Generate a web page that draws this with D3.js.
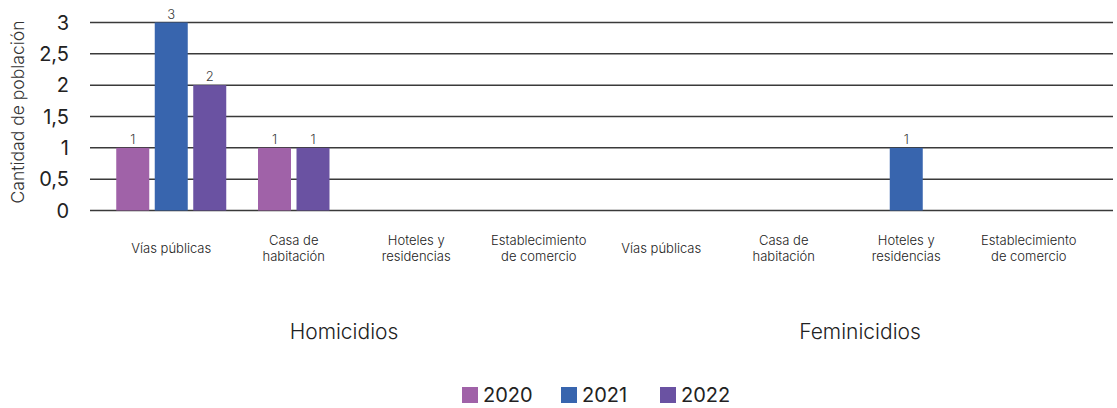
<!DOCTYPE html>
<html>
<head>
<meta charset="utf-8">
<script src="https://cdn.jsdelivr.net/npm/d3@7"></script>
<style>
  body { margin: 0; background: #fff; }
  svg text { font-family: Inter, "Liberation Sans", sans-serif; }
</style>
</head>
<body>
<div id="chart"></div>
<script>
// data
const groups = ['Homicidios', 'Feminicidios'];
const places = ['Vías públicas', 'Casa de habitación', 'Hoteles y residencias', 'Establecimiento de comercio'];
const placeLabels = [['Vías públicas'], ['Casa de', 'habitación'], ['Hoteles y', 'residencias'], ['Establecimiento', 'de comercio']];
const years = ['2020', '2021', '2022'];
const colors = ['#a062a8', '#3865ae', '#6a52a2'];
// one entry per group+place, null = no value
const values2020 = [1, 1, null, null, null, null, null, null];
const values2021 = [3, null, null, null, null, null, 1, null];
const values2022 = [2, 1, null, null, null, null, null, null];
const yTicks = [0, 0.5, 1, 1.5, 2, 2.5, 3];

const width = 1117, height = 408;
const svg = d3.select('#chart').append('svg')
  .attr('width', width)
  .attr('height', height);

const cats = [];
groups.forEach(g => places.forEach((p, i) => cats.push({ group: g, place: p, lines: placeLabels[i] })));
const series = [values2020, values2021, values2022];

const x = d3.scaleBand().domain(d3.range(cats.length)).range([110, 1090]);
const y = d3.scaleLinear().domain([0, 3]).range([210.5, 22.5]);
const gridLeft = 90, gridRight = 1113;
const barW = 33, barStep = 38.5;

// grid
svg.append('g').selectAll('line')
  .data(yTicks)
  .join('line')
  .attr('x1', gridLeft)
  .attr('x2', gridRight)
  .attr('y1', d => y(d))
  .attr('y2', d => y(d))
  .attr('stroke', '#3a3a3a')
  .attr('stroke-width', 1.5);

// y tick labels
svg.append('g').selectAll('text')
  .data(yTicks)
  .join('text')
  .attr('x', 69)
  .attr('y', d => y(d) + 7)
  .attr('text-anchor', 'end')
  .attr('font-size', 20)
  .attr('fill', '#222')
  .text(d => String(d).replace('.', ','));

// axis title
svg.append('text')
  .attr('transform', 'translate(24,112) rotate(-90)')
  .attr('text-anchor', 'middle')
  .attr('font-size', 17.5)
  .attr('font-weight', 300)
  .attr('fill', '#333')
  .text('Cantidad de población');

// bars: present values centered within the category
const bars = [];
cats.forEach((c, i) => {
  const present = [];
  series.forEach((s, k) => { if (s[i] != null) present.push({ k, v: s[i] }); });
  const n = present.length;
  const center = x(i) + x.bandwidth() / 2;
  present.forEach((p, j) => {
    bars.push({ cx: center + (j - (n - 1) / 2) * barStep, v: p.v, k: p.k });
  });
});

svg.append('g').selectAll('rect')
  .data(bars)
  .join('rect')
  .attr('x', d => d.cx - barW / 2)
  .attr('y', d => y(d.v))
  .attr('width', barW)
  .attr('height', d => y(0) - y(d.v))
  .attr('fill', d => colors[d.k]);

svg.append('g').selectAll('text')
  .data(bars)
  .join('text')
  .attr('x', d => d.cx)
  .attr('y', d => y(d.v) - 4)
  .attr('text-anchor', 'middle')
  .attr('font-size', 13)
  .attr('font-weight', 300)
  .attr('fill', '#404040')
  .text(d => d.v);

// category labels
const catG = svg.append('g').selectAll('text')
  .data(cats)
  .join('text')
  .attr('text-anchor', 'middle')
  .attr('font-size', 13)
  .attr('font-weight', 300)
  .attr('fill', '#222');
catG.each(function (d, i) {
  const t = d3.select(this);
  const cx = x(i) + x.bandwidth() / 2;
  const y0 = d.lines.length === 1 ? 253 : 245;
  d.lines.forEach((l, j) => {
    t.append('tspan').attr('x', cx).attr('y', y0 + j * 16).text(l);
  });
});

// group labels
svg.append('g').selectAll('text')
  .data(groups)
  .join('text')
  .attr('x', (d, gi) => {
    const first = x(gi * places.length);
    const last = x(gi * places.length + places.length - 1) + x.bandwidth();
    return (first + last) / 2 - 11 + gi * 26;
  })
  .attr('y', 339)
  .attr('text-anchor', 'middle')
  .attr('font-size', 21)
  .attr('font-weight', 300)
  .attr('fill', '#222')
  .text(d => d);

// legend
const legend = svg.append('g').attr('transform', 'translate(462,387)');
const item = legend.selectAll('g')
  .data(years)
  .join('g')
  .attr('transform', (d, i) => `translate(${i * 99},0)`);
item.append('rect')
  .attr('width', 16)
  .attr('height', 16)
  .attr('fill', (d, i) => colors[i]);
item.append('text')
  .attr('x', 21)
  .attr('y', 15)
  .attr('font-size', 20)
  .attr('fill', '#222')
  .text(d => d);
</script>
</body>
</html>
